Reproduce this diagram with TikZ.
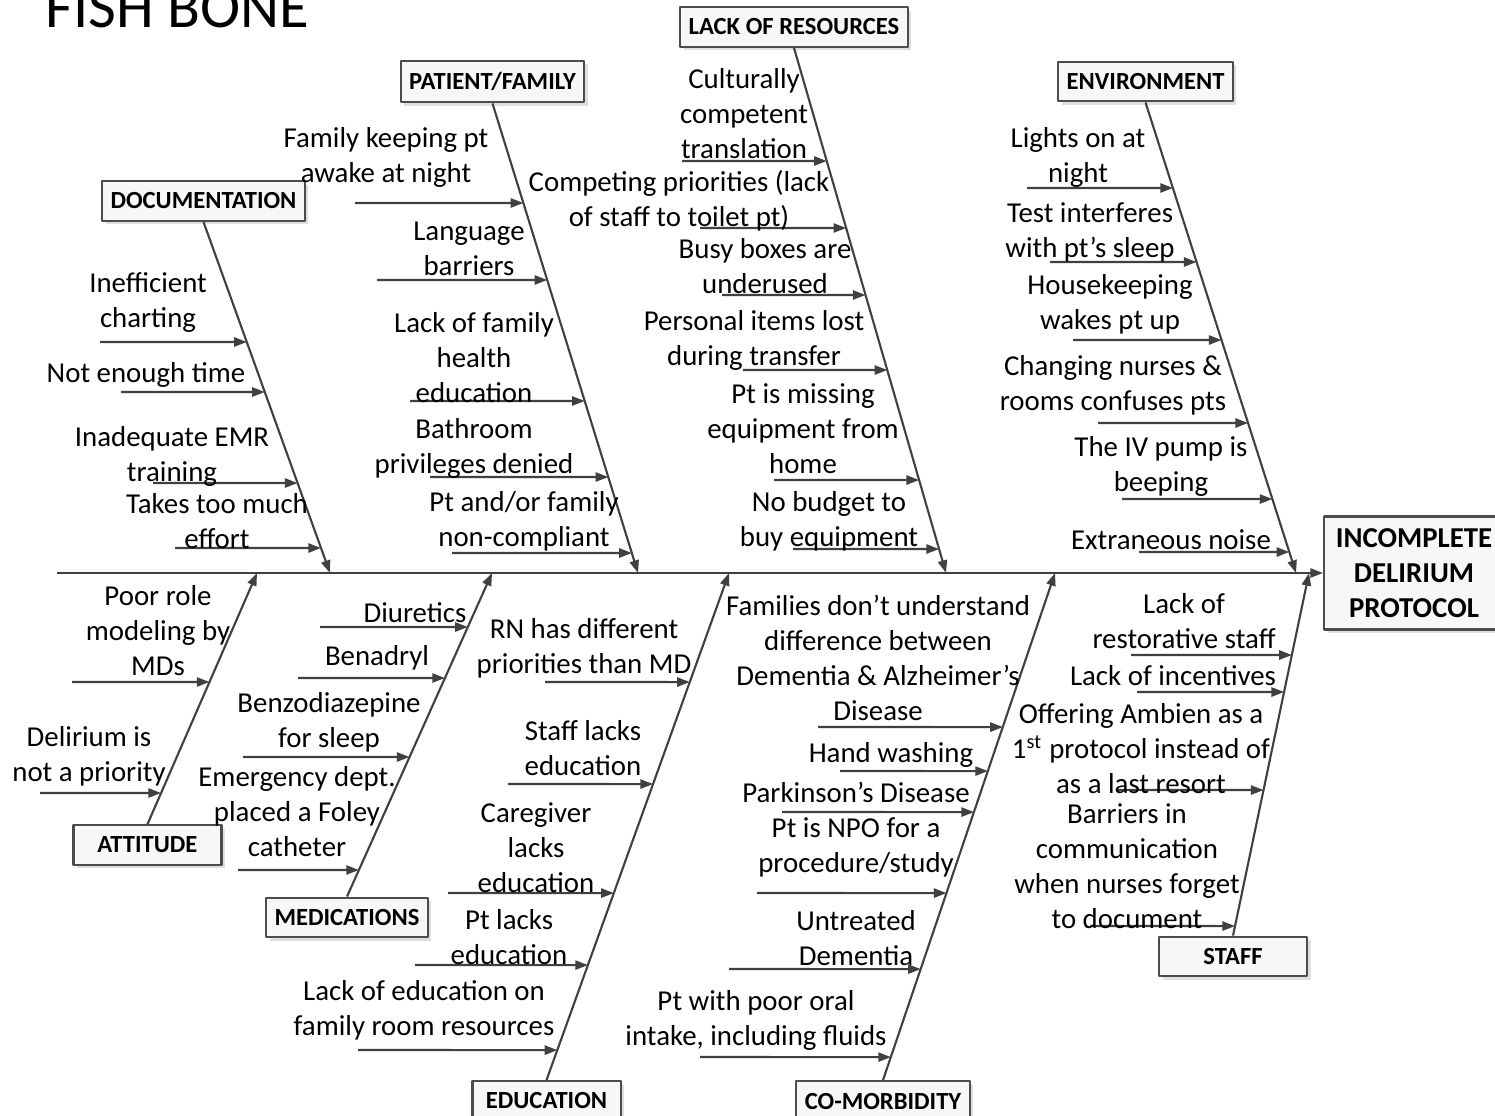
\documentclass[tikz,border=0pt]{standalone}
\usepackage{fontspec}
\setmainfont{Carlito}
\usetikzlibrary{arrows.meta,shadows}
\tikzset{
  head/.style={draw=black!70, line width=0.6pt, fill=gray!6, font=\fontsize{7}{8}\selectfont\bfseries,
    inner xsep=2.4pt, minimum width=1.48cm, minimum height=0.38cm,
    drop shadow={shadow xshift=1pt, shadow yshift=-1pt, opacity=0.25}},
  cause/.style={align=center, font=\fontsize{8.2}{9.95}\selectfont, inner sep=0pt, yshift=-0.7pt},
  bone/.style={->, draw=black!75, line width=0.6pt},
  sub/.style={->, draw=black!75, line width=0.6pt},
}
% id, bone, x start, y, text position, text
\newcommand\fishcause[6]{%
  \coordinate (s#1) at (#3,#4);
  \coordinate (t#1) at (intersection of a#2--e#2 and 0,#4--1,#4);
  \draw[sub] (s#1) -- (t#1);
  \node[cause] (#1) at (#5) {#6};
}
\begin{document}
\begin{tikzpicture}[x=0.01cm, y=-0.01cm, >={Triangle[length=3.6pt,width=2.6pt]}, line join=round]
\useasboundingbox (0,0) rectangle (1495,1116);
\node[anchor=base west, inner sep=0pt, font=\fontsize{17.2}{20}\selectfont] (title) at (45,28) {FISH BONE};
% head and spine
\node[draw=black!70, line width=0.6pt, fill=gray!6, align=center, font=\fontsize{8.2}{9.95}\selectfont\bfseries,
  minimum width=1.74cm, minimum height=1.13cm, drop shadow={shadow xshift=1pt, shadow yshift=-1pt, opacity=0.25}]
  (effect) at (1414,573) {INCOMPLETE\\DELIRIUM\\PROTOCOL};
\coordinate (tail) at (57,573);
\draw[bone] (tail) -- (effect.west);
% categories
\node[head] (doc) at (203.5,201) {DOCUMENTATION};
\node[head] (pat) at (492.5,81.5) {PATIENT/FAMILY};
\node[head] (res) at (794,27) {LACK OF RESOURCES};
\node[head] (env) at (1145.5,81.5) {ENVIRONMENT};
\node[head] (att) at (147.5,845) {ATTITUDE};
\node[head] (med) at (347,917.5) {MEDICATIONS};
\node[head] (edu) at (546.5,1101) {EDUCATION};
\node[head] (com) at (883,1101) {CO-MORBIDITY};
\node[head] (stf) at (1233,956.5) {STAFF};
\foreach \n/\x in {doc/330,pat/638,res/946,env/1296}{
  \coordinate (a\n) at (\n.south); \coordinate (e\n) at (\x,573);
  \draw[bone] (a\n) -- (e\n);}
\foreach \n/\x in {att/257,med/492,edu/729,com/1055,stf/1309}{
  \coordinate (a\n) at (\n.north); \coordinate (e\n) at (\x,573);
  \draw[bone] (a\n) -- (e\n);}
% documentation
\fishcause{d1}{doc}{100}{342}{148,300.5}{Inefficient\\charting}
\fishcause{d2}{doc}{121}{392}{146,373}{Not enough time}
\fishcause{d3}{doc}{153}{483}{172,454.5}{Inadequate EMR\\training}
\fishcause{d4}{doc}{175}{548}{217,518.5}{Takes too much\\effort}
% patient/family
\fishcause{p1}{pat}{355}{203}{386,155.5}{Family keeping pt\\awake at night}
\fishcause{p2}{pat}{377}{280}{469,246.5}{Language\\barriers}
\fishcause{p3}{pat}{410}{401}{474,355}{Lack of family\\health\\education}
\fishcause{p4}{pat}{430}{477}{474,446.5}{Bathroom\\privileges denied}
\fishcause{p5}{pat}{452}{553}{524,518.5}{Pt and/or family\\non-compliant}
% lack of resources
\fishcause{r1}{res}{682}{161}{744,111}{Culturally\\competent\\translation}
\fishcause{r2}{res}{700}{228}{679,198}{Competing priorities (lack\\of staff to toilet pt)}
\fishcause{r3}{res}{722}{295}{765,264}{Busy boxes are\\underused}
\fishcause{r4}{res}{743}{370}{754,338}{Personal items lost\\during transfer}
\fishcause{r5}{res}{774}{480}{803,426}{Pt is missing\\equipment from\\home}
\fishcause{r6}{res}{793}{549}{829,518.5}{No budget to\\buy equipment}
% environment
\fishcause{v1}{env}{1027}{188}{1078,155.5}{Lights on at\\night}
\fishcause{v2}{env}{1050}{262}{1090,229.5}{Test interferes\\with pt’s sleep}
\fishcause{v3}{env}{1073}{340}{1110,301.5}{Housekeeping\\wakes pt up}
\fishcause{v4}{env}{1098}{423}{1113,383}{Changing nurses \&\\rooms confuses pts}
\fishcause{v5}{env}{1122}{499}{1161,464.5}{The IV pump is\\beeping}
\fishcause{v6}{env}{1139}{552}{1171,537}{Extraneous noise}
% attitude
\fishcause{a1}{att}{72}{682}{158,628}{Poor role\\modeling by\\MDs}
\fishcause{a2}{att}{40}{793}{89,754}{Delirium is\\not a priority}
% medications
\fishcause{m1}{med}{320}{627}{415,610}{Diuretics}
\fishcause{m2}{med}{298}{678}{377,655}{Benadryl}
\fishcause{m3}{med}{243}{757}{329,719.5}{Benzodiazepine\\for sleep}
\fishcause{m4}{med}{238}{870}{297,809}{Emergency dept.\\placed a Foley\\catheter}
% education
\fishcause{e1}{edu}{545}{682}{584,645.5}{RN has different\\priorities than MD}
\fishcause{e2}{edu}{508}{784}{583,746}{Staff lacks\\education}
\fishcause{e3}{edu}{448}{893}{536,845}{Caregiver\\lacks\\education}
\fishcause{e4}{edu}{415}{965}{509,935}{Pt lacks\\education}
\fishcause{e5}{edu}{358}{1050}{424,1007.5}{Lack of education on\\family room resources}
% co-morbidity
\fishcause{c1}{com}{818}{727}{878,655}{Families don’t understand\\difference between\\Dementia \& Alzheimer’s\\Disease}
\fishcause{c2}{com}{840}{771}{891,753}{Hand washing}
\fishcause{c3}{com}{782}{812}{856,790}{Parkinson’s Disease}
\fishcause{c4}{com}{757}{893}{856,845}{Pt is NPO for a\\procedure/study}
\fishcause{c5}{com}{729}{969}{856,936}{Untreated\\Dementia}
\fishcause{c6}{com}{700}{1057}{756,1018}{Pt with poor oral\\intake, including fluids}
% staff
\fishcause{f1}{stf}{1131}{655}{1184,618.5}{Lack of\\restorative staff}
\fishcause{f2}{stf}{1137}{692}{1173,673}{Lack of incentives}
\fishcause{f3}{stf}{1117}{790}{1141,746}{Offering Ambien as a\\1\textsuperscript{st} protocol instead of\\as a last resort}
\fishcause{f4}{stf}{1090}{926}{1127,863.5}{Barriers in\\communication\\when nurses forget\\to document}
\end{tikzpicture}
\end{document}
